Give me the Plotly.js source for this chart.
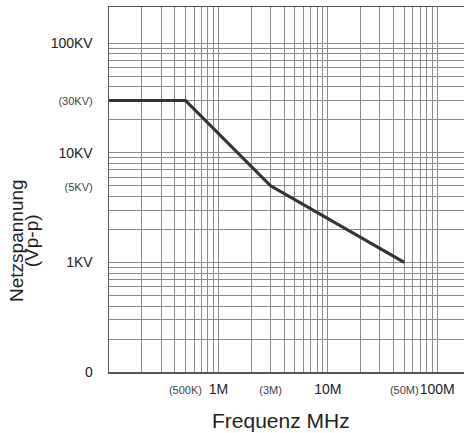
<!DOCTYPE html>
<html>
<head>
<meta charset="utf-8">
<script src="https://cdn.plot.ly/plotly-3.0.1.min.js"></script>
<style>html,body{margin:0;padding:0;background:#fff;}#chart{width:464px;height:433px;}</style>
</head>
<body>
<div id="chart"></div>
<script>
// Curve data (frequency in MHz, voltage in V peak-to-peak)
const freqMHz = [0.1, 0.5, 3, 50];
const voltageV = [30000, 30000, 5000, 1000];

// X gridline positions (MHz) and their labels
const xTickVals = [0.2,0.3,0.4,0.5,0.6,0.7,0.8,0.9,
                   1,2,3,4,5,6,7,8,9,
                   10,20,30,40,50,60,70,80,90,100];
const xTickLabels = {0.5:'(500K)', 1:'1M', 3:'(3M)', 10:'10M', 50:'(50M)', 100:'100M'};
const xSmall = [0.5, 3, 50];

// Y gridline positions (V) and their labels
const yTickVals = [100,200,300,400,500,600,700,800,900,
                   1000,2000,3000,4000,5000,6000,7000,8000,9000,
                   10000,20000,30000,40000,50000,60000,70000,80000,90000,100000];
const yTickLabels = {100:'0', 1000:'1KV', 5000:'(5KV)', 10000:'10KV', 30000:'(30KV)', 100000:'100KV'};
const ySmall = [5000, 30000];

function fmt(v, labels, small){
  const t = labels[v];
  if (t === undefined) return '';
  return small.includes(v) ? '<span style="font-size:11px;color:#444">' + t + '</span>' : t;
}

const trace = {
  x: freqMHz, y: voltageV, type: 'scatter', mode: 'lines',
  line: {color: '#3a3030', width: 3.2}, hoverinfo: 'skip'
};

const layout = {
  width: 464, height: 433,
  margin: {l: 109, r: 0, t: 7, b: 61},
  paper_bgcolor: '#ffffff', plot_bgcolor: '#ffffff',
  showlegend: false,
  font: {family: 'Liberation Sans, Arial, sans-serif', color: '#222', size: 14},
  xaxis: {
    type: 'log', range: [-1, 2.245],
    tickvals: xTickVals, ticktext: xTickVals.map(v => fmt(v, xTickLabels, xSmall)),
    tickangle: 0, ticks: '', ticklabelstandoff: 4,
    showgrid: true, gridcolor: '#8a8a8a', gridwidth: 1,
    showline: true, linecolor: '#555', linewidth: 1.5, mirror: true,
    zeroline: false, tickfont: {size: 14}
  },
  yaxis: {
    type: 'log', range: [2, 5.33],
    tickvals: yTickVals, ticktext: yTickVals.map(v => fmt(v, yTickLabels, ySmall)),
    ticks: '', ticklabelstandoff: 12,
    showgrid: true, gridcolor: '#8a8a8a', gridwidth: 1,
    showline: true, linecolor: '#555', linewidth: 1.5, mirror: false,
    zeroline: false, tickfont: {size: 14}
  },
  annotations: [
    {text: 'Netzspannung', xref: 'paper', yref: 'paper', x: -0.261, y: 0.36,
     xanchor: 'center', yanchor: 'middle', textangle: -90, showarrow: false,
     font: {size: 19, color: '#222'}},
    {text: '(Vp-p)', xref: 'paper', yref: 'paper', x: -0.218, y: 0.36,
     xanchor: 'center', yanchor: 'middle', textangle: -90, showarrow: false,
     font: {size: 19, color: '#222'}},
    {text: 'Frequenz MHz', xref: 'paper', yref: 'paper', x: 0.4845, y: -0.1334,
     xanchor: 'center', yanchor: 'middle', showarrow: false,
     font: {size: 21, color: '#222'}}
  ]
};

Plotly.newPlot('chart', [trace], layout, {staticPlot: true, displayModeBar: false});
</script>
</body>
</html>
